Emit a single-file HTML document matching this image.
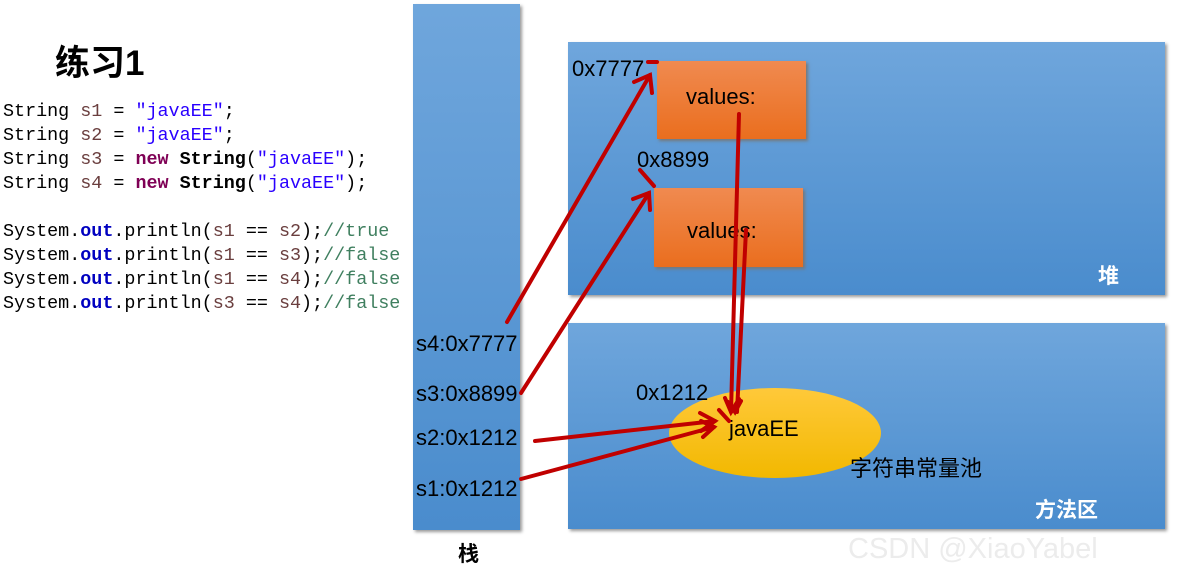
<!DOCTYPE html>
<html><head><meta charset="utf-8"><style>
body{margin:0;width:1183px;height:583px;background:#fff;position:relative;overflow:hidden;font-family:"Liberation Sans","Noto Sans CJK SC",sans-serif}
.a{position:absolute}
pre{margin:0;font-family:"Liberation Mono",monospace;font-size:18.4px;line-height:24px;color:#000;font-weight:normal}
.v{color:#6a3e3e}.s{color:#2a00ff}.k{color:#7f0055;font-weight:bold}.f{color:#0000c0;font-weight:bold}.c{color:#3f7f5f}.b{font-weight:bold}
.blue{background:linear-gradient(#6fa6dc,#4a8ccd);box-shadow:2px 2px 3px #999}
.or{background:linear-gradient(#f08a50,#ea6e1e);box-shadow:2px 2px 3px #777}
.t{font-size:22px;color:#000}
</style></head><body>
<div class="a b" style="left:55px;top:35px;font-size:35px;">练习1</div>
<pre class="a" style="left:3px;top:100px">String <span class="v">s1</span> = <span class="s">"javaEE"</span>;
String <span class="v">s2</span> = <span class="s">"javaEE"</span>;
String <span class="v">s3</span> = <span class="k">new</span> <span class="b">String</span>(<span class="s">"javaEE"</span>);
String <span class="v">s4</span> = <span class="k">new</span> <span class="b">String</span>(<span class="s">"javaEE"</span>);

System.<span class="f">out</span>.println(<span class="v">s1</span> == <span class="v">s2</span>);<span class="c">//true</span>
System.<span class="f">out</span>.println(<span class="v">s1</span> == <span class="v">s3</span>);<span class="c">//false</span>
System.<span class="f">out</span>.println(<span class="v">s1</span> == <span class="v">s4</span>);<span class="c">//false</span>
System.<span class="f">out</span>.println(<span class="v">s3</span> == <span class="v">s4</span>);<span class="c">//false</span></pre>
<div class="a blue" style="left:413px;top:4px;width:107px;height:526px"></div>
<div class="a b" style="left:458px;top:538px;font-size:21px">栈</div>
<div class="a blue" style="left:568px;top:42px;width:597px;height:253px"></div>
<div class="a blue" style="left:568px;top:323px;width:597px;height:206px"></div>
<div class="a b" style="left:1098px;top:260px;font-size:21px;color:#fff">堆</div>
<div class="a b" style="left:1035px;top:494px;font-size:21px;color:#fff">方法区</div>
<div class="a or" style="left:657px;top:61px;width:149px;height:78px"></div>
<div class="a or" style="left:654px;top:188px;width:149px;height:79px"></div>
<div class="a" style="left:669px;top:388px;width:212px;height:90px;border-radius:50%;background:linear-gradient(#ffc93a,#f2b800)"></div>
<div class="a t" style="left:686px;top:84px">values:</div>
<div class="a t" style="left:687px;top:218px">values:</div>
<div class="a t" style="left:572px;top:56px">0x7777</div>
<div class="a t" style="left:637px;top:147px">0x8899</div>
<div class="a t" style="left:636px;top:380px">0x1212</div>
<div class="a t" style="left:729px;top:416px">javaEE</div>
<div class="a t" style="left:850px;top:451px">字符串常量池</div>
<div class="a t" style="left:416px;top:331px">s4:0x7777</div>
<div class="a t" style="left:416px;top:381px">s3:0x8899</div>
<div class="a t" style="left:416px;top:425px">s2:0x1212</div>
<div class="a t" style="left:416px;top:476px">s1:0x1212</div>
<svg class="a" style="left:0;top:0" width="1183" height="583">
<g stroke="#c00000" stroke-width="4" fill="none" stroke-linecap="round">
<line x1="507" y1="322" x2="650" y2="75"/><polyline points="634,82 650,75 652,93"/>
<line x1="648" y1="62" x2="657" y2="62"/>
<line x1="521" y1="393" x2="649" y2="193"/><polyline points="633,199 649,193 650,210"/>
<line x1="640" y1="170" x2="654" y2="186"/>
<line x1="535" y1="441" x2="715" y2="421"/><polyline points="700,413 715,421 701,431"/>
<line x1="521" y1="479" x2="714" y2="427"/><polyline points="701,421 714,427 703,437"/>
<line x1="739" y1="114" x2="731" y2="412"/><polyline points="725,398 731,412 739,399"/>
<line x1="746" y1="230" x2="737" y2="412"/><polyline points="728,402 735,412 741,401"/>
<line x1="719" y1="410" x2="729" y2="421"/>
</g></svg>
<div class="a" style="left:848px;top:533px;font-size:29px;color:#ececec">CSDN @XiaoYabel</div>
</body></html>
